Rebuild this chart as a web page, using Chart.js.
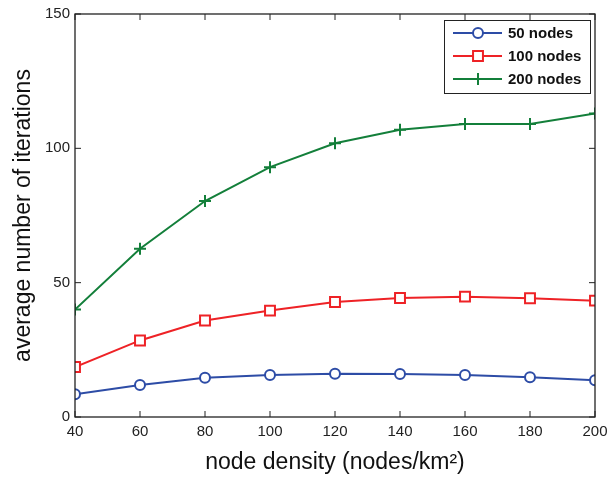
<!DOCTYPE html>
<html>
<head>
<meta charset="utf-8">
<script src="https://cdn.jsdelivr.net/npm/chart.js@4"></script>
<style>
  html, body { margin: 0; padding: 0; background: #fff; }
  #wrap { width: 616px; height: 478px; }
</style>
</head>
<body>
<div id="wrap"><canvas id="chart" width="616" height="478"></canvas></div>
<script>
// data
const densities = [40, 60, 80, 100, 120, 140, 160, 180, 200];
const nodes50 = [8.5, 11.9, 14.6, 15.6, 16.1, 16.0, 15.6, 14.8, 13.7];
const nodes100 = [18.6, 28.5, 35.9, 39.6, 42.8, 44.3, 44.8, 44.2, 43.3];
const nodes200 = [40, 62.6, 80.4, 93, 101.9, 106.9, 109.1, 109.1, 113];
const yTicks = [0, 50, 100, 150];

const FONT = "'Liberation Sans', Arial, sans-serif";

// inward ticks + box + legend drawn on top of the plot
const frameAndLegend = {
  id: "frameAndLegend",
  afterDatasetsDraw(chart) {
    const { ctx, chartArea: a, scales } = chart;
    ctx.save();
    ctx.strokeStyle = "#222";
    ctx.lineWidth = 1.3;
    ctx.strokeRect(a.left, a.top, a.right - a.left, a.bottom - a.top);
    ctx.lineWidth = 1;
    const t = 6;
    densities.forEach(d => {
      const x = scales.x.getPixelForValue(d);
      ctx.beginPath();
      ctx.moveTo(x, a.bottom); ctx.lineTo(x, a.bottom - t);
      ctx.moveTo(x, a.top); ctx.lineTo(x, a.top + t);
      ctx.stroke();
    });
    yTicks.forEach(v => {
      const y = scales.y.getPixelForValue(v);
      ctx.beginPath();
      ctx.moveTo(a.left, y); ctx.lineTo(a.left + t, y);
      ctx.moveTo(a.right, y); ctx.lineTo(a.right - t, y);
      ctx.stroke();
    });

    // legend box
    const bx = 444, by = 20, bw = 146, bh = 73;
    ctx.fillStyle = "#fff";
    ctx.fillRect(bx, by, bw, bh);
    ctx.strokeStyle = "#222";
    ctx.lineWidth = 1;
    ctx.strokeRect(bx + 0.5, by + 0.5, bw, bh);
    ctx.font = "bold 15px " + FONT;
    ctx.textBaseline = "middle";
    chart.data.datasets.forEach((ds, i) => {
      const y = by + 13 + i * 23;
      ctx.strokeStyle = ds.borderColor;
      ctx.lineWidth = 2;
      ctx.beginPath();
      ctx.moveTo(bx + 9, y); ctx.lineTo(bx + 58, y);
      ctx.stroke();
      ctx.fillStyle = "#fff";
      Chart.helpers.drawPoint(ctx, {
        pointStyle: ds.pointStyle, radius: ds.pointRadius, borderWidth: 2
      }, bx + 34, y);
      ctx.fillStyle = "#111";
      ctx.fillText(ds.label, bx + 64, y + 1);
    });
    ctx.restore();
  }
};

new Chart(document.getElementById("chart"), {
  type: "line",
  data: {
    labels: densities,
    datasets: [
      {
        label: "50 nodes", data: nodes50,
        borderColor: "#2d4ca6", backgroundColor: "#fff", pointBackgroundColor: "#fff",
        pointStyle: "circle", pointRadius: 5, pointBorderWidth: 2, borderWidth: 2
      },
      {
        label: "100 nodes", data: nodes100,
        borderColor: "#ee2226", backgroundColor: "#fff", pointBackgroundColor: "#fff",
        pointStyle: "rect", pointRadius: 7, pointBorderWidth: 2, borderWidth: 2
      },
      {
        label: "200 nodes", data: nodes200,
        borderColor: "#137f3a", backgroundColor: "#fff", pointBackgroundColor: "#fff",
        pointStyle: "cross", pointRadius: 6, pointBorderWidth: 2, borderWidth: 2
      }
    ]
  },
  options: {
    responsive: false,
    animation: false,
    layout: { padding: { top: 12, right: 21, left: 0, bottom: 0 } },
    plugins: { legend: { display: false }, tooltip: { enabled: false } },
    elements: { line: { tension: 0, fill: false } },
    scales: {
      x: {
        type: "linear", min: 40, max: 200,
        afterBuildTicks: s => { s.ticks = densities.map(v => ({ value: v })); },
        afterFit: s => { s.height = 61; },
        grid: { display: false, drawTicks: false },
        border: { display: false },
        ticks: { color: "#222", font: { family: FONT, size: 15 }, padding: 6, maxRotation: 0 },
        title: {
          display: true, text: "node density (nodes/km\u00B2)", color: "#111",
          font: { family: FONT, size: 23 }, padding: { top: 2, bottom: 2 }
        }
      },
      y: {
        min: 0, max: 150,
        afterBuildTicks: s => { s.ticks = yTicks.map(v => ({ value: v })); },
        afterFit: s => { s.width = 75; },
        grid: { display: false, drawTicks: false },
        border: { display: false },
        ticks: { color: "#222", font: { family: FONT, size: 15 }, padding: 5 },
        title: {
          display: true, text: "average number of iterations", color: "#111",
          font: { family: FONT, size: 23 }, padding: { top: 10, bottom: 0 }
        }
      }
    }
  },
  plugins: [frameAndLegend]
});
</script>
</body>
</html>
